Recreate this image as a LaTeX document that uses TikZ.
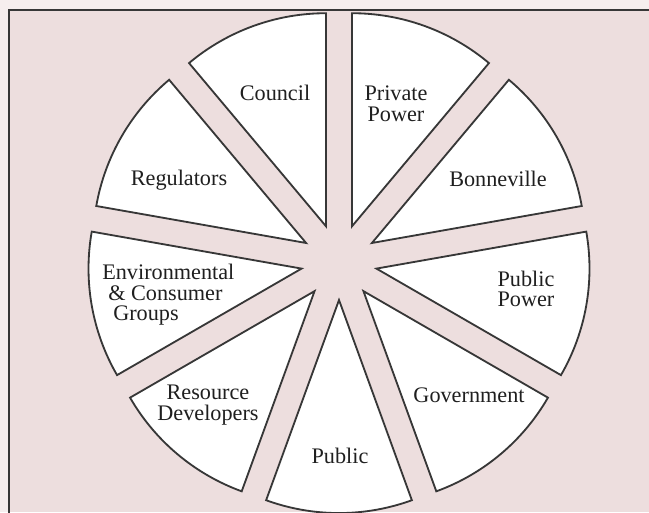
\documentclass[tikz,border=0pt]{standalone}
\usepackage{fontspec}
\setmainfont{Liberation Serif}
\usepackage{tikz}
\usetikzlibrary{positioning}

\definecolor{paper}{RGB}{246,238,238}
\definecolor{pinkbg}{RGB}{237,222,222}
\definecolor{inkgray}{RGB}{55,55,55}

\tikzset{
  wedge/.style={draw=inkgray, fill=white, line width=1.3pt, line join=miter},
  sector/.style={font=\fontsize{15.8}{14.6}\selectfont, text=black!88, inner sep=0pt, align=center},
}

\begin{document}
\begin{tikzpicture}[x=0.025cm,y=0.025cm]
\useasboundingbox (0,0) rectangle (649,512);

% background and frame
\fill[paper] (0,0) rectangle (649,512);
\fill[pinkbg] (9,0) rectangle (649,502);
\draw[inkgray, line width=1.4pt] (9,-5) -- (9,502) -- (660,502);

% centre of the pie
\coordinate (C) at (339,250);

% Private Power
\draw[wedge, shift={(C)}, shift={(70:0.95cm)}] (0,0) -- (50:5.325cm) arc[start angle=50, end angle=90, radius=5.325cm] -- cycle;
% Bonneville
\draw[wedge, shift={(C)}, shift={(30:0.95cm)}] (0,0) -- (10:5.325cm) arc[start angle=10, end angle=50, radius=5.325cm] -- cycle;
% Public Power
\draw[wedge, shift={(C)}, shift={(-10:0.95cm)}] (0,0) -- (-30:5.325cm) arc[start angle=-30, end angle=10, radius=5.325cm] -- cycle;
% Government
\draw[wedge, shift={(C)}, shift={(-50:0.95cm)}] (0,0) -- (-70:5.325cm) arc[start angle=-70, end angle=-30, radius=5.325cm] -- cycle;
% Public
\draw[wedge, shift={(C)}, shift={(-90:0.95cm)}] (0,0) -- (-110:5.325cm) arc[start angle=-110, end angle=-70, radius=5.325cm] -- cycle;
% Resource Developers
\draw[wedge, shift={(C)}, shift={(-130:0.95cm)}] (0,0) -- (-150:5.325cm) arc[start angle=-150, end angle=-110, radius=5.325cm] -- cycle;
% Environmental & Consumer Groups
\draw[wedge, shift={(C)}, shift={(190:0.95cm)}] (0,0) -- (170:5.325cm) arc[start angle=170, end angle=210, radius=5.325cm] -- cycle;
% Regulators
\draw[wedge, shift={(C)}, shift={(150:0.95cm)}] (0,0) -- (130:5.325cm) arc[start angle=130, end angle=170, radius=5.325cm] -- cycle;
% Council
\draw[wedge, shift={(C)}, shift={(110:0.95cm)}] (0,0) -- (90:5.325cm) arc[start angle=90, end angle=130, radius=5.325cm] -- cycle;

% labels
\node[sector] (council) at (275,419) {Council};
\node[sector] (private) at (396,408) {Private\\Power};
\node[sector] (bonneville) at (498,333) {Bonneville};
\node[sector] (pubpower) at (526,223) {Public\\Power};
\node[sector] (government) at (469,117) {Government};
\node[sector] (public) at (340,56) {Public};
\node[sector] (resource) at (208,107) {Resource\\Developers};
\node[sector, anchor=west, align=left] (environ) at (102,217) {Environmental\\\hspace*{4.3pt}\& Consumer\\\hspace*{7.8pt}Groups};
\node[sector] (regulators) at (179,332) {Regulators};

\end{tikzpicture}
\end{document}
